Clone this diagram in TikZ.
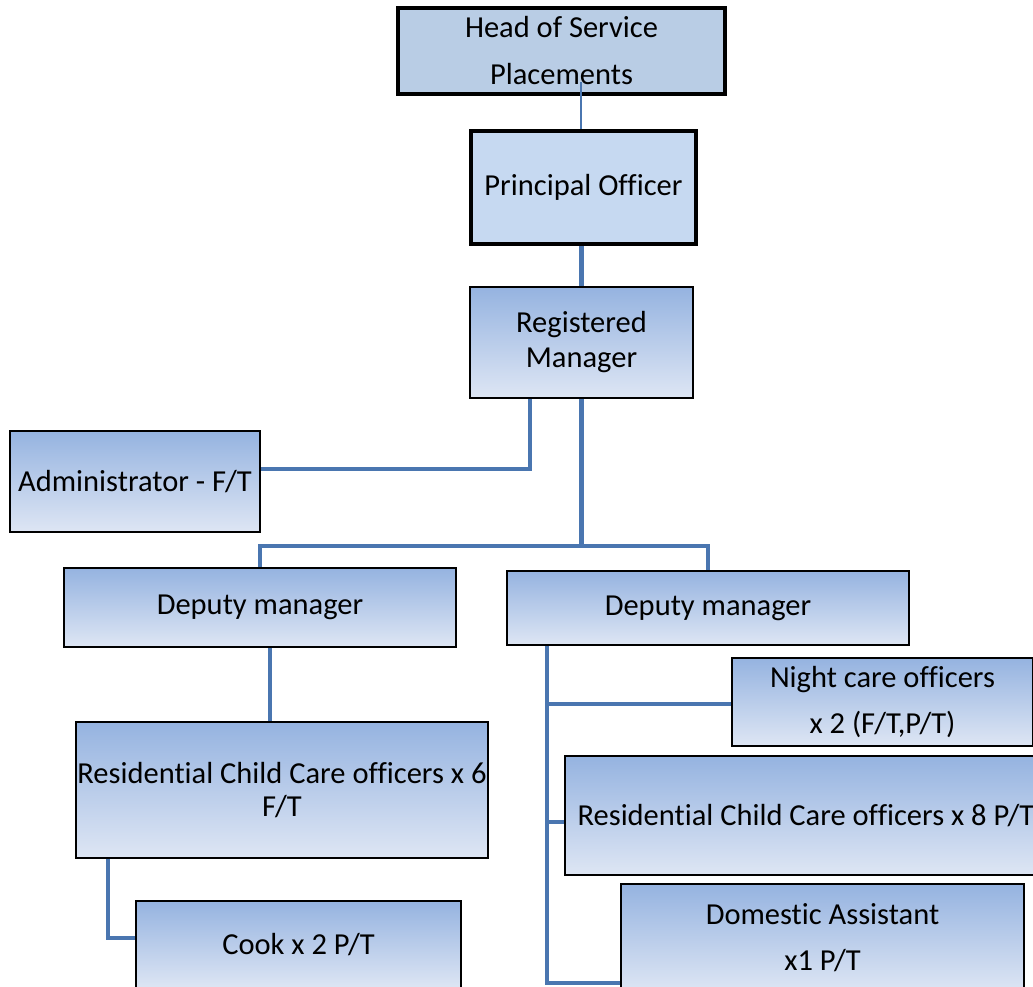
\documentclass[tikz,border=0pt]{standalone}
\usepackage{fontspec}
\setmainfont{Carlito}[Ligatures=NoCommon]
\definecolor{gtop}{RGB}{149,179,224}
\definecolor{gbot}{RGB}{222,230,244}
\definecolor{headfill}{RGB}{185,205,229}
\definecolor{princfill}{RGB}{198,217,241}
\definecolor{conn}{RGB}{74,118,176}
\begin{document}
\begin{tikzpicture}[x=1pt,y=-1pt,
  box/.style={draw=black, line width=2.5pt, top color=gtop, bottom color=gbot,
    inner sep=0pt, align=center, font=\fontsize{30.5}{35}\selectfont},
  topbox/.style={draw=black, line width=4.5pt, inner sep=0pt, align=center,
    font=\fontsize{30.5}{35}\selectfont},
  link/.style={draw=conn, line width=4.5pt, line join=miter},
  thinlink/.style={draw=conn, line width=1.5pt}]
\useasboundingbox (0,0) rectangle (1033,986);
\clip (0,0) rectangle (1033,986);

\node[topbox, fill=headfill, minimum width=327pt, minimum height=86pt] (head) at (561.5,51)
  {Head of Service\\[12pt]Placements};
\node[topbox, fill=princfill, minimum width=225pt, minimum height=113pt] (princ) at (583.5,187.5)
  {Principal Officer};
\node[box, minimum width=223pt, minimum height=111pt] (reg) at (581.5,342.5)
  {Registered\\Manager};
\node[box, minimum width=250pt, minimum height=101pt] (admin) at (135,481.5)
  {Administrator - F/T};
\node[box, minimum width=392pt, minimum height=79pt] (depL) at (260,607.5)
  {Deputy manager};
\node[box, minimum width=402pt, minimum height=74pt] (depR) at (708,608)
  {Deputy manager};
\node[box, minimum width=412pt, minimum height=136pt] (rcc6) at (282,790)
  {Residential Child Care officers x 6\\[-2pt]F/T};
\node[box, minimum width=325pt, minimum height=88pt] (cook) at (298.5,945)
  {Cook x 2 P/T};
\node[box, minimum width=301pt, minimum height=88pt] (night) at (882.5,702)
  {Night care officers\\[11pt]x 2 (F/T,P/T)};
\node[box, minimum width=482pt, minimum height=119pt] (rcc8) at (806,815.5)
  {Residential Child Care officers x 8 P/T};
\node[box, minimum width=403pt, minimum height=108pt] (dom) at (822.5,938)
  {Domestic Assistant\\[11pt]x1 P/T};

% connectors
\coordinate (hp) at (581,82);
\draw[thinlink] (hp) -- (hp |- princ.north);
\draw[link] (reg.north |- princ.south) -- (reg.north);
\draw[link] ([xshift=-51.5pt]reg.south) |- ([yshift=12.5pt]admin.east);
\coordinate (bus) at (581.5,546);
\draw[link] (reg.south) -- (bus) -| (depL.north);
\draw[link] (bus) -| (depR.north);
\draw[link] ([xshift=10pt]depL.south) -- ([xshift=10pt]depL.south |- rcc6.north);
\draw[link] ([xshift=-174pt]rcc6.south) |- ([yshift=7pt]cook.west);
\coordinate (rb) at ([xshift=-161pt]depR.south);
\draw[link] (rb) |- ([yshift=-2pt]night.west);
\draw[link] (rb) |- ([yshift=-6.5pt]rcc8.west);
\draw[link] (rb) |- ([yshift=-45pt]dom.west);
\end{tikzpicture}
\end{document}
